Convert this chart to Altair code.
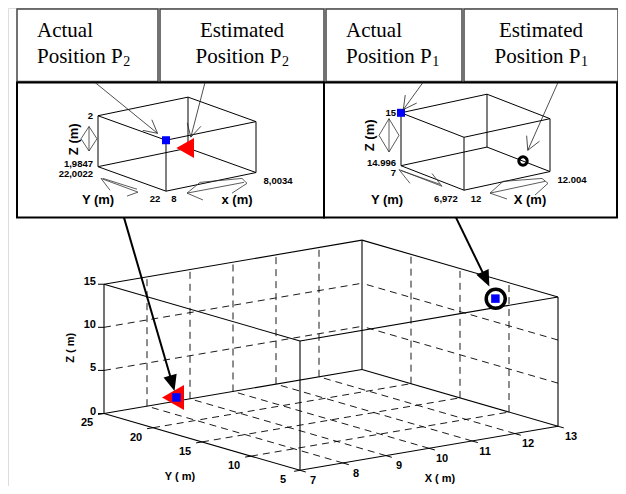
import math
import altair as alt
import pandas as pd

# ---------------- values ----------------
X_TICKS = [7, 8, 9, 10, 11, 12, 13]
Y_TICKS = [5, 10, 15, 20, 25]
Z_TICKS = [0, 5, 10, 15]

P1_ACTUAL = [12, 7, 15]
P1_ESTIMATED = [12.004, 6.984, 14.996]
P2_ACTUAL = [8, 22, 2]
P2_ESTIMATED = [8.0034, 22.0022, 1.9847]

INSET2_X = [8, 8.0034]
INSET2_Y = [22, 22.0022]
INSET2_Z = [1.9847, 2]
INSET2_XLAB = ["8", "8,0034"]
INSET2_YLAB = ["22", "22,0022"]
INSET2_ZLAB = ["1,9847", "2"]

INSET1_X = [12, 12.004]
INSET1_Y = [6.972, 7]
INSET1_Z = [14.996, 15]
INSET1_XLAB = ["12", "12.004"]
INSET1_YLAB = ["6,972", "7"]
INSET1_ZLAB = ["14.996", "15"]

BOX_LINE1 = ["Actual", "Estimated", "Actual", "Estimated"]
BOX_LINE2 = ["Position P", "Position P", "Position P", "Position P"]
BOX_SUB = ["2", "2", "1", "1"]

MAIN_TITLES = ["X ( m)", "Y ( m)", "Z ( m)"]
INSET2_TITLES = ["x (m)", "Y (m)", "Z  (m)"]
INSET1_TITLES = ["X (m)", "Y (m)", "Z  (m)"]

# ---------------- layout ----------------
XS = alt.Scale(domain=[8, 618], nice=False, zero=False)
YS = alt.Scale(domain=[6, 494], reverse=True, nice=False, zero=False)


def proj(xr, yr, zr, origin, vx, vy, vz):
    def p(X, Y, Z):
        fx = (X - xr[0]) / (xr[1] - xr[0])
        fy = (yr[1] - Y) / (yr[1] - yr[0])
        fz = (Z - zr[0]) / (zr[1] - zr[0])
        return (origin[0] + fx * vx[0] + fy * vy[0] + fz * vz[0],
                origin[1] + fx * vx[1] + fy * vy[1] + fz * vz[1])
    return p


XR = [X_TICKS[0], X_TICKS[-1]]
YR = [Y_TICKS[0], Y_TICKS[-1]]
ZR = [Z_TICKS[0], Z_TICKS[-1]]
pm = proj(XR, YR, ZR, (104, 420), (258, -45), (196, 58), (0, -132))
p2 = proj(INSET2_X, INSET2_Y, INSET2_Z, (98, 168), (90, -19), (68, 25), (0, -52))
p1 = proj(INSET1_X, INSET1_Y, INSET1_Z, (401, 167), (86, -19), (63, 25), (0, -54))


def box_edges(p, xr, yr, zr):
    s = []
    for X in xr:
        for Y in yr:
            s.append((p(X, Y, zr[0]), p(X, Y, zr[1])))
    for X in xr:
        for Z in zr:
            s.append((p(X, yr[0], Z), p(X, yr[1], Z)))
    for Y in yr:
        for Z in zr:
            s.append((p(xr[0], Y, Z), p(xr[1], Y, Z)))
    return s


def enc():
    return dict(x=alt.X("x:Q", scale=XS, axis=None),
                y=alt.Y("y:Q", scale=YS, axis=None))


def rules(segs, **kw):
    df = pd.DataFrame([{"x": a[0], "y": a[1], "x2": b[0], "y2": b[1]} for a, b in segs])
    return alt.Chart(df).mark_rule(**kw).encode(x2="x2:Q", y2="y2:Q", **enc())


def polyline(pts):
    return [(pts[i], pts[i + 1]) for i in range(len(pts) - 1)]


def texts(items, **kw):
    df = pd.DataFrame([{"x": x, "y": y, "t": t} for x, y, t in items])
    return alt.Chart(df).mark_text(**kw).encode(text="t:N", **enc())


def points(items, **kw):
    df = pd.DataFrame([{"x": x, "y": y} for x, y in items])
    return alt.Chart(df).mark_point(**kw).encode(**enc())


def rects(items, **kw):
    df = pd.DataFrame([{"x": a, "x2": b, "y": c, "y2": d} for a, b, c, d in items])
    return alt.Chart(df).mark_rect(**kw).encode(x2="x2:Q", y2="y2:Q", **enc())


layers = []

# ---- text boxes and inset frames ----
BOX_TOP, BOX_BOTTOM = 7, 81
BOX_EDGES = [(17, 158), (160, 324), (326, 462), (464, 618)]
layers.append(rects([(a, b, BOX_TOP, BOX_BOTTOM) for a, b in BOX_EDGES],
                    fill="white", stroke="#444", strokeWidth=1.5))
INSET_TOP, INSET_BOTTOM = 82, 220
layers.append(rects([(17, 324, INSET_TOP, INSET_BOTTOM), (324, 617, INSET_TOP, INSET_BOTTOM)],
                    fill="white", stroke="black", strokeWidth=2))

# box texts
FS = 21
POS_W = 4.085 * FS          # width of "Position P" in a Times-metric font
SUB_FS = 14
line2_start = []
first_items_left, first_items_center = [], []
for i, (a, b) in enumerate(BOX_EDGES):
    if BOX_LINE1[i] == "Actual":
        start = a + 20
        first_items_left.append((start, 36, BOX_LINE1[i]))
    else:
        c = (a + b) / 2
        first_items_center.append((c, 36, BOX_LINE1[i]))
        start = c - (POS_W + 0.5 * SUB_FS) / 2
    line2_start.append(start)
serif = dict(font="Liberation Serif", fontSize=FS, color="black", baseline="alphabetic")
layers.append(texts(first_items_left, align="left", **serif))
layers.append(texts(first_items_center, align="center", **serif))
layers.append(texts([(s, 62, BOX_LINE2[i]) for i, s in enumerate(line2_start)], align="left", **serif))
layers.append(texts([(s + POS_W + 0.5, 65, BOX_SUB[i]) for i, s in enumerate(line2_start)],
                    align="left", font="Liberation Serif", fontSize=SUB_FS, color="black",
                    baseline="alphabetic"))


def thin_arrow(start, target, back):
    dx, dy = target[0] - start[0], target[1] - start[1]
    L = math.hypot(dx, dy)
    ux, uy = dx / L, dy / L
    tip = (target[0] - ux * back, target[1] - uy * back)
    segs = [(start, tip)]
    ang = math.atan2(-uy, -ux)
    for da in (math.radians(28), -math.radians(28)):
        segs.append((tip, (tip[0] + 15 * math.cos(ang + da), tip[1] + 15 * math.sin(ang + da))))
    return segs


def inset(p, xr, yr, zr, xlab, ylab, zlab, titles, offs, deco):
    out = []
    out.append(rules(box_edges(p, xr, yr, zr), color="black", strokeWidth=1))
    out.append(rules(deco, color="#333", strokeWidth=0.8))
    lab = dict(font="Liberation Sans", fontWeight="bold", fontSize=9.5, color="black", baseline="middle")
    tl = p(xr[0], yr[1], zr[1])
    bl = p(xr[0], yr[1], zr[0])
    fr = p(xr[0], yr[0], zr[0])
    rt = p(xr[1], yr[0], zr[0])
    out.append(texts([(tl[0] - 5, tl[1], zlab[1]),
                      (bl[0] - 5, bl[1] - 3, zlab[0]),
                      (bl[0] - 5, bl[1] + 7.5, ylab[1])], align="right", **lab))
    out.append(texts([(fr[0] + offs[0], fr[1] + 8.5, ylab[0]),
                      (fr[0] + offs[1], fr[1] + 8.5, xlab[0]),
                      (rt[0] + 22, rt[1] + 9, xlab[1])], align="center", **lab))
    tt = dict(font="Liberation Sans", fontWeight="bold", fontSize=13, color="black", baseline="middle")
    out.append(texts([(offs[2], 202, titles[1]), (offs[3], 202, titles[0])], align="center", **tt))
    out.append(texts([(offs[4], offs[5], titles[2])], align="center", angle=270, **tt))
    return out


def diamond(c, hw, hh):
    cx, cy = c
    pts = [(cx, cy - hh), (cx + hw, cy), (cx, cy + hh), (cx - hw, cy), (cx, cy - hh)]
    return polyline(pts) + [((cx, cy - hh), (cx, cy + hh))]


deco2 = (diamond((89, 139.5), 8, 12.5)
         + polyline([(110, 192), (101, 180), (138, 194), (127, 198)])
         + [((103, 180), (137, 191))]
         + polyline([(203, 202), (187, 195), (200, 184), (242, 180), (247, 185), (232, 195)])
         + [((187, 195), (244, 184))])
deco1 = (diamond((389, 136), 10, 17)
         + polyline([(410, 185), (399, 171), (442, 188), (432, 175)])
         + [((401, 172), (440, 186))]
         + polyline([(507, 201), (490, 195), (503, 183), (542, 180), (548, 185), (535, 197)])
         + [((490, 195), (545, 183))])

layers += inset(p2, INSET2_X, INSET2_Y, INSET2_Z, INSET2_XLAB, INSET2_YLAB, INSET2_ZLAB,
                INSET2_TITLES, (-11, 8, 98, 237, 74, 140), deco2)
layers += inset(p1, INSET1_X, INSET1_Y, INSET1_Z, INSET1_XLAB, INSET1_YLAB, INSET1_ZLAB,
                INSET1_TITLES, (-18, 12, 387, 530, 370, 136), deco1)

# inset markers
TRI = "M0.6,-1L-1.16,0L0.6,1Z"
layers.append(points([p2(*P2_ESTIMATED)], shape=TRI, filled=True, color="#ff0000", size=400, opacity=1))
layers.append(points([p2(*P2_ACTUAL)], shape="square", filled=True, color="#0000ff", size=64, opacity=1))
layers.append(points([p1(*P1_ACTUAL)], shape="square", filled=True, color="#0000ff", size=64, opacity=1))
layers.append(points([p1(*P1_ESTIMATED)], shape="circle", filled=False, color="black",
                     strokeWidth=3, size=71, opacity=1))

# thin arrows from the text boxes
thin = (thin_arrow((95, INSET_TOP), p2(*P2_ACTUAL), 11)
        + thin_arrow((205, INSET_TOP), p2(*P2_ESTIMATED), 11.5)
        + thin_arrow((423, INSET_TOP), p1(*P1_ACTUAL), 4)
        + thin_arrow((558, INSET_TOP), p1(*P1_ESTIMATED), 12))
layers.append(rules(thin, color="#222", strokeWidth=0.8))

# ---- main 3-D box ----
grid = []
for X in X_TICKS[1:-1]:
    grid.append((pm(X, YR[1], ZR[0]), pm(X, YR[1], ZR[1])))
    grid.append((pm(X, YR[0], ZR[0]), pm(X, YR[1], ZR[0])))
for Y in Y_TICKS[1:-1]:
    grid.append((pm(XR[1], Y, ZR[0]), pm(XR[1], Y, ZR[1])))
    grid.append((pm(XR[0], Y, ZR[0]), pm(XR[1], Y, ZR[0])))
for Z in Z_TICKS[1:-1]:
    grid.append((pm(XR[0], YR[1], Z), pm(XR[1], YR[1], Z)))
    grid.append((pm(XR[1], YR[0], Z), pm(XR[1], YR[1], Z)))
layers.append(rules(grid, color="black", strokeWidth=0.9, strokeDash=[7, 5]))
layers.append(rules(box_edges(pm, XR, YR, ZR), color="black", strokeWidth=1.1))

ticks = []
for Z in Z_TICKS:
    a = pm(XR[0], YR[1], Z)
    ticks.append((a, (a[0] - 6, a[1])))
for Y in Y_TICKS:
    a = pm(XR[0], Y, ZR[0])
    ticks.append((a, (a[0] - 5.9, a[1] + 1.0)))
for X in X_TICKS:
    a = pm(X, YR[0], ZR[0])
    ticks.append((a, (a[0] + 5.8, a[1] + 1.7)))
layers.append(rules(ticks, color="black", strokeWidth=1))

tl = dict(font="Liberation Sans", fontWeight="bold", fontSize=11, color="black", baseline="middle")
layers.append(texts([(pm(XR[0], YR[1], Z)[0] - 8, pm(XR[0], YR[1], Z)[1] - 2, str(Z)) for Z in Z_TICKS],
                    align="right", **tl))
layers.append(texts([(pm(XR[0], Y, ZR[0])[0] - 17, pm(XR[0], Y, ZR[0])[1] + 10, str(Y)) for Y in Y_TICKS]
                    + [(pm(X, YR[0], ZR[0])[0] + 13, pm(X, YR[0], ZR[0])[1] + 11, str(X)) for X in X_TICKS],
                    align="center", **tl))
layers.append(texts([(440, 487, MAIN_TITLES[0]), (180, 485, MAIN_TITLES[1])], align="center", **tl))
layers.append(texts([(71, 353, MAIN_TITLES[2])], align="center", angle=270, **tl))

# main markers
m2 = pm(*P2_ACTUAL)
m1 = pm(*P1_ACTUAL)
layers.append(points([pm(*P2_ESTIMATED)], shape=TRI, filled=True, color="#ff0000", size=625, opacity=1))
layers.append(points([m2, m1], shape="square", filled=True, color="#0000ff", size=72, opacity=1))
layers.append(points([pm(*P1_ESTIMATED)], shape="circle", filled=False, color="black",
                     strokeWidth=3.5, size=363, opacity=1))

# thick arrows from the insets to the main markers
HEAD = "M0,-1L0.85,1L-0.85,1Z"
heads, shafts = [], []
for sx, target, back in ((124, m2, 7), (456, m1, 14)):
    start = (sx, INSET_BOTTOM)
    dx, dy = target[0] - start[0], target[1] - start[1]
    L = math.hypot(dx, dy)
    ux, uy = dx / L, dy / L
    tip = (target[0] - ux * back, target[1] - uy * back)
    r = 8
    heads.append({"x": tip[0] - ux * r, "y": tip[1] - uy * r,
                  "a": math.degrees(math.atan2(ux, -uy)) % 360})
    shafts.append((start, (tip[0] - ux * r, tip[1] - uy * r)))
layers.append(rules(shafts, color="black", strokeWidth=2))
layers.append(alt.Chart(pd.DataFrame(heads)).mark_point(
    shape=HEAD, filled=True, color="black", size=(2 * 8) ** 2, opacity=1).encode(
    angle=alt.Angle("a:Q", scale=None), **enc()))

chart = alt.layer(*layers).properties(
    width=610, height=478, padding=0,
    autosize=alt.AutoSizeParams(type="none"),
).configure_view(stroke=None).configure(background="white")

chart.save("out.html", embed_options={"renderer": "svg", "actions": False})
